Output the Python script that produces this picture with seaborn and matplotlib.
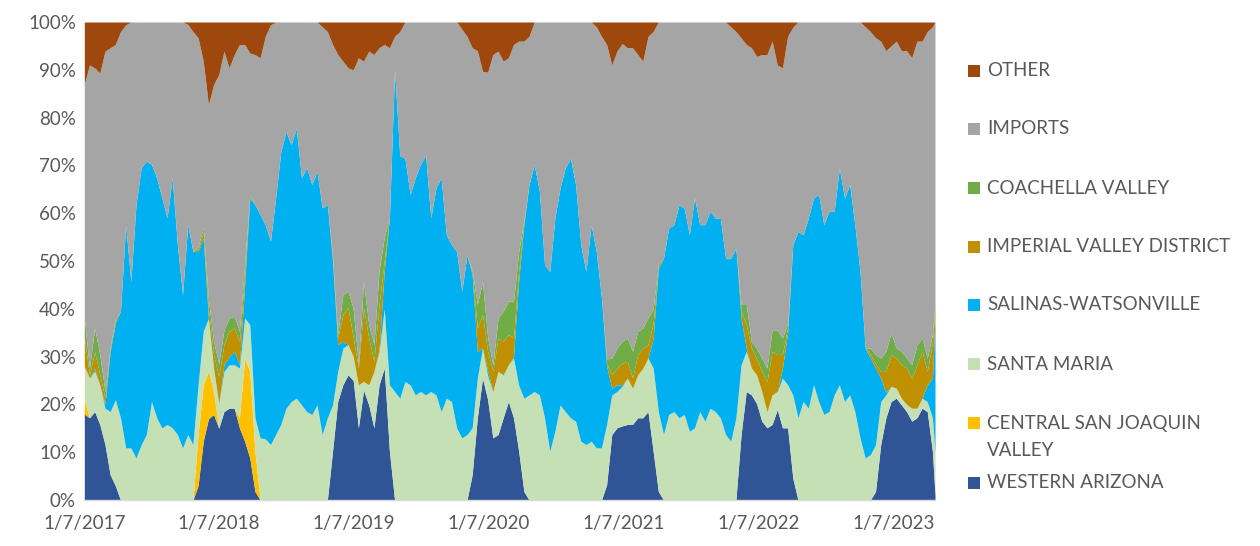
import numpy as np
import pandas as pd
import matplotlib
matplotlib.use("Agg")
import matplotlib.pyplot as plt
from matplotlib.patches import Rectangle
import seaborn as sns

# ---- data: share of volume (%), read every 2 weeks from 1/7/2017, plus the last week ----
dates = list(pd.date_range("2017-01-07", periods=165, freq="14D")) + [pd.Timestamp("2023-04-29")]

western_arizona = [
    18, 17.2, 18.5, 15.8, 11.6, 5.3, 3, 0, 0, 0,
    0, 0, 0, 0, 0, 0, 0, 0, 0, 0,
    0, 0, 3, 12.3, 17, 17.9, 15, 18.5, 19.2, 19.2,
    15.1, 12.3, 8.8, 1.8, 0, 0, 0, 0, 0, 0,
    0, 0, 0, 0, 0, 0, 0, 0, 10.2, 20.6,
    24.1, 26.2, 25, 15.1, 23, 19.9, 15.1, 24.1, 27.6, 10.2,
    0, 0, 0, 0, 0, 0, 0, 0, 0, 0,
    0, 0, 0, 0, 0, 5.3, 17.2, 25.5, 21, 13,
    13.7, 17.2, 20.6, 17.2, 10.2, 1.8, 0, 0, 0, 0,
    0, 0, 0, 0, 0, 0, 0, 0, 0, 0,
    0, 3.2, 13.7, 15.1, 15.5, 15.8, 15.8, 17.2, 17.2, 18.5,
    10.2, 1.8, 0, 0, 0, 0, 0, 0, 0, 0,
    0, 0, 0, 0, 0, 0, 0, 13.7, 22.7, 22,
    20.2, 16.5, 15.1, 15.8, 18.9, 15.1, 15.1, 4.6, 0, 0,
    0, 0, 0, 0, 0, 0, 0, 0, 0, 0,
    0, 0, 0, 1.8, 11.6, 17.2, 20.6, 21.3, 19.9, 18.5,
    16.5, 17.2, 19.2, 18.5, 10.2, 1]
central_san_joaquin = [
    3, 0, 0, 0, 0, 0, 0, 0, 0, 0,
    0, 0, 0, 0, 0, 0, 0, 0, 0, 0,
    0, 0, 10.7, 11.8, 10, 4.8, 0, 0, 0, 0,
    2.1, 17.4, 18.1, 8.4, 0, 0, 0, 0, 0, 0,
    0, 0, 0, 0, 0, 0, 0, 0, 0, 0,
    0, 0, 0, 0, 0, 0, 0, 0, 0, 0,
    0, 0, 0, 0, 0, 0, 0, 0, 0, 0,
    0, 0, 0, 0, 0, 0, 0, 0, 0, 0,
    0, 0, 0, 0, 0, 0, 0, 0, 0, 0,
    0, 0, 0, 0, 0, 0, 0, 0, 0, 0,
    0, 0, 0, 0, 0, 0, 0, 0, 0, 0,
    0, 0, 0, 0, 0, 0, 0, 0, 0, 0,
    0, 0, 0, 0, 0, 0, 0, 0, 0, 0,
    0, 0, 0, 0, 0, 0, 0, 0, 0, 0,
    0, 0, 0, 0, 0, 0, 0, 0, 0, 0,
    0, 0, 0, 0, 0, 0, 0, 0, 0, 0,
    0, 0, 0, 0, 0, 0]
santa_maria = [
    7, 8.3, 8.5, 8.3, 7.6, 13.2, 18, 17.2, 10.9, 10.9,
    8.8, 11.6, 13.7, 20.6, 17.2, 15.1, 15.8, 15.1, 13.7, 10.9,
    13.7, 11.6, 10.4, 11.2, 11, 4.9, 5.2, 8.4, 9.1, 9.1,
    10.4, 8.4, 9.8, 7, 13, 12.8, 11.6, 13.7, 15.8, 19.2,
    20.6, 21.3, 19.9, 18.5, 17.9, 19.9, 13.7, 17.2, 9.7, 6.3,
    7.7, 6.3, 5, 9, 1.8, 4.2, 11.8, 7, 12.4, 13.9,
    22.7, 21.3, 24.8, 24.1, 22, 22.7, 22, 22.7, 22, 18.5,
    21.3, 20.6, 15.1, 13, 13.7, 9.8, 8.3, 6.3, 5, 9.7,
    13.2, 9, 7.7, 12.5, 13.8, 19.5, 22, 22.7, 22, 17.2,
    10.2, 14.4, 19.9, 18.5, 17.2, 16.5, 12.3, 11.6, 12.3, 10.9,
    10.9, 12.6, 8.3, 7.6, 8.3, 9.7, 7.6, 9, 10.4, 11.2,
    17.4, 16.7, 13.7, 17.9, 18.5, 17.2, 17.9, 14.4, 15.1, 18.5,
    16.5, 19.2, 18.5, 17.2, 13.7, 12.3, 17.2, 14.6, 8.4, 5.6,
    6, 6.2, 3.4, 6.2, 3.8, 10.4, 9, 17.4, 17.2, 20.6,
    19.2, 24.1, 20.6, 17.9, 18.5, 22, 24.1, 20.6, 22, 18.5,
    13, 8.8, 9.5, 9.8, 9, 4.8, 3.2, 2.1, 1.4, 1.5,
    2.7, 2, 2.1, 2.1, 7, 9]
salinas_watsonville = [
    0, 0, 0.5, 0, 0.8, 12.6, 16, 22.3, 46.7, 34.8,
    53, 57.9, 57.2, 49.6, 50.2, 48.1, 43.2, 52.3, 39.7, 32.1,
    43.9, 40.4, 27.9, 19.5, 0, 0, 0, 1.4, 1.7, 2.8,
    0.7, 6.9, 26.5, 44.6, 46.7, 44.8, 42.5, 49.5, 57.1, 57.9,
    53.7, 56.5, 47.5, 51, 48.1, 48.9, 47.4, 44.6, 30.1, 5.6,
    1.4, 0, 0, 0, 0, 0, 0, 0.4, 8, 34.9,
    67.3, 50.7, 46.7, 39.8, 45.4, 47.5, 50.2, 36.3, 43.3, 48.9,
    34.2, 32.8, 36.9, 30.7, 37.6, 32, 5.6, 0, 1, 0,
    0, 0, 0, 0.3, 22, 36.3, 44, 47.5, 42.6, 32,
    37.6, 44.6, 45.4, 51, 54.3, 49.5, 41.1, 36.2, 45.3, 41.1,
    31.4, 12.2, 1.4, 1.4, 0.3, 0, 0, 0, 0, 0,
    6.3, 30, 36.9, 39, 39.1, 44.6, 43.2, 41.1, 48.1, 39.1,
    41.1, 41.2, 40.5, 41.8, 36.9, 38.3, 35.5, 9.8, 0.7, 0,
    0, 0, 0, 0, 0, 2.1, 10.9, 31.4, 39, 34.9,
    39.8, 39.1, 43.3, 39.7, 41.9, 38.4, 45.4, 42.6, 44, 39.1,
    34.8, 23, 20.2, 16, 4.9, 0.5, 0, 0, 0, 0,
    0, 0, 0, 3.5, 8.3, 28]
imperial_valley = [
    6, 0.7, 3.5, 2.1, 1.3, 0.4, 0.5, 0, 0, 0,
    0, 0, 0, 0, 0, 0, 0, 0, 0, 0,
    0, 0, 0.5, 1.2, 2, 2.8, 5.6, 4.2, 5.3, 4.9,
    4.9, 2, 0.3, 0, 0, 0, 0, 0, 0, 0,
    0, 0, 0, 0, 0, 0, 0, 0, 0.5, 1.4,
    5.6, 7.7, 4, 3.5, 15.4, 9.8, 2.1, 9.4, 2, 0,
    0, 0, 0, 0, 0, 0, 0, 0, 0, 0,
    0, 0, 0, 0, 0, 0.4, 4.9, 7, 4, 4.3,
    7, 7, 6.3, 3.9, 2, 0.4, 0, 0, 0, 0,
    0, 0, 0, 0, 0, 0, 0, 0, 0, 0,
    0, 0.5, 2.8, 3.5, 4.5, 3.5, 2.1, 4.2, 4.2, 2.8,
    3.1, 0.5, 0, 0, 0, 0, 0, 0, 0, 0,
    0, 0, 0, 0, 0, 0, 0, 1.4, 4.9, 4.2,
    3.3, 4.2, 6.3, 9.1, 7.7, 2.9, 1, 0, 0, 0,
    0, 0, 0, 0, 0, 0, 0, 0, 0, 0,
    0, 0, 0.8, 0.9, 1.4, 4.4, 6.6, 6.3, 7, 7.6,
    6.3, 9.1, 9.8, 2.8, 7.5, 2]
coachella_valley = [
    4, 1.4, 5, 4.2, 1.4, 0.5, 0.5, 0, 0, 0,
    0, 0, 0, 0, 0, 0, 0, 0, 0, 0,
    0, 0, 0.5, 1, 2, 2.8, 2.7, 3.1, 2.8, 2.4,
    2.1, 2, 0.5, 0, 0, 0, 0, 0, 0, 0,
    0, 0, 0, 0, 0, 0, 0, 0, 0.5, 0.7,
    4.2, 3.5, 6, 0.7, 5.5, 2.8, 3.5, 7.1, 5, 0,
    0, 0, 0, 0, 0, 0, 0, 0, 0, 0,
    0, 0, 0, 0, 0, 0.5, 4.9, 6.9, 3, 1.3,
    4.2, 6.3, 7, 7.7, 4, 0.5, 0, 0, 0, 0,
    0, 0, 0, 0, 0, 0, 0, 0, 0, 0,
    0, 1, 3.5, 4.2, 4.6, 4.9, 5.6, 4.9, 4.2, 5.6,
    3, 0.5, 0, 0, 0, 0, 0, 0, 0, 0,
    0, 0, 0, 0, 0, 0, 0, 1.4, 4.2, 1.4,
    2.3, 2.8, 2.8, 4.5, 5.2, 3.4, 1, 0, 0, 0,
    0, 0, 0, 0, 0, 0, 0, 0, 0, 0,
    0, 0, 1.3, 1.9, 2.8, 4.2, 4.6, 2.1, 2.8, 2.1,
    2.8, 4.2, 2.8, 2.8, 1.6, 1]
imports = [
    49, 63.4, 54.4, 58.9, 71.2, 62.6, 57.3, 58.5, 41.8, 54.3,
    38.2, 30.5, 29.1, 29.8, 32.6, 36.8, 41, 32.6, 46.6, 57,
    41.9, 46, 43.7, 34.8, 40.7, 53.7, 60.5, 58.3, 52.3, 54.8,
    60, 46.3, 29.5, 31.4, 32.8, 39.4, 45.3, 36.8, 27.1, 22.9,
    25.7, 22.2, 32.6, 30.5, 34, 31.2, 37.9, 36.2, 44.3, 58.6,
    48.8, 46.7, 50, 64.2, 46.1, 57.2, 60.7, 46.6, 40.3, 35.6,
    7, 26, 28.5, 36.1, 32.6, 29.8, 27.8, 41, 34.7, 32.6,
    44.5, 46.6, 48, 54.8, 45.7, 46.6, 53.1, 44, 55.5, 64.9,
    55.8, 52.3, 50.9, 53.7, 44, 37.5, 31, 29.8, 35.4, 50.8,
    52.2, 41, 34.7, 30.5, 28.5, 34, 46.6, 52.2, 42.4, 47,
    54.7, 65.8, 61.3, 62.1, 62.3, 60.7, 63.5, 57.9, 55.8, 58.9,
    58, 50.5, 49.4, 43.1, 42.4, 38.2, 38.9, 44.5, 36.8, 42.4,
    42.4, 39.6, 41, 41, 49.4, 48.4, 45.3, 55.8, 54.4, 61.4,
    61, 63.5, 65.6, 60.4, 55.4, 56.5, 60, 45.5, 43.8, 44.5,
    41, 36.8, 36.1, 42.4, 39.6, 39.6, 30.5, 36.8, 34, 42.4,
    52.2, 67.2, 66.2, 66.3, 66.3, 62.9, 60, 64.2, 62.9, 64.3,
    64.2, 63.5, 62.1, 68.3, 64.4, 59]
other = [
    13, 9, 9.6, 10.7, 6.1, 5.4, 4.7, 2, 0.6, 0,
    0, 0, 0, 0, 0, 0, 0, 0, 0, 0,
    0.5, 2, 3.3, 8.2, 17.3, 13.1, 11, 6.1, 9.6, 6.8,
    4.7, 4.7, 6.5, 6.8, 7.5, 3, 0.6, 0, 0, 0,
    0, 0, 0, 0, 0, 0, 1, 2, 4.7, 6.8,
    8.2, 9.6, 10, 7.5, 8.2, 6.1, 6.8, 5.4, 4.7, 5.4,
    3, 2, 0, 0, 0, 0, 0, 0, 0, 0,
    0, 0, 0, 1.5, 3, 5.4, 6, 10.3, 10.5, 6.8,
    6.1, 8.2, 7.5, 4.7, 4, 4, 3, 0, 0, 0,
    0, 0, 0, 0, 0, 0, 0, 0, 0, 1,
    3, 4.7, 9, 6.1, 4.5, 5.4, 5.4, 6.8, 8.2, 3,
    2, 0, 0, 0, 0, 0, 0, 0, 0, 0,
    0, 0, 0, 0, 0, 1, 2, 3.3, 4.7, 5.4,
    7.2, 6.8, 6.8, 4, 9, 9.6, 3, 1.1, 0, 0,
    0, 0, 0, 0, 0, 0, 0, 0, 0, 0,
    0, 1, 2, 3.3, 4, 6, 5, 4, 6, 6,
    7.5, 4, 4, 2, 1, 0]

series_names = ["WESTERN ARIZONA", "CENTRAL SAN JOAQUIN\nVALLEY", "SANTA MARIA", "SALINAS-WATSONVILLE",
                "IMPERIAL VALLEY DISTRICT", "COACHELLA VALLEY", "IMPORTS", "OTHER"]
colors = ["#2F5597", "#FFC000", "#C5E0B4", "#00B0F0", "#BF9000", "#70AD47", "#A5A5A5", "#9E480E"]
tick_years = [2017, 2018, 2019, 2020, 2021, 2022, 2023]
y_ticks = [0, 10, 20, 30, 40, 50, 60, 70, 80, 90, 100]

# ---- style ----
sns.set_style("white")
plt.rcParams['font.family'] = ['Lato', 'DejaVu Sans']
text_color = "#595959"

df = pd.DataFrame({"date": dates, "WA": western_arizona, "CSJ": central_san_joaquin, "SM": santa_maria,
                   "SAL": salinas_watsonville, "IVD": imperial_valley, "CV": coachella_valley,
                   "IMP": imports, "OTH": other})
vals = df[["WA", "CSJ", "SM", "SAL", "IVD", "CV", "IMP", "OTH"]].to_numpy(dtype=float)
vals = vals / vals.sum(axis=1, keepdims=True) * 100  # 100% stacked

fig = plt.figure(figsize=(12.6, 5.46), dpi=100)
ax = fig.add_axes([84.3 / 1260, 1 - 500 / 546, (935 - 84.3) / 1260, (500 - 22) / 546])
ax.stackplot(df["date"], vals.T, colors=colors, linewidth=0)

ax.set_xlim(df["date"].iloc[0], df["date"].iloc[-1])
ax.set_ylim(0, 100)
ax.set_yticks(y_ticks)
ax.set_yticklabels([f"{v}%" for v in y_ticks], fontsize=13.5, color=text_color)
xt = [pd.Timestamp(year=y, month=1, day=7) for y in tick_years]
ax.set_xticks(xt)
ax.set_xticklabels([f"1/7/{y}" for y in tick_years], fontsize=13.5, color=text_color)
ax.tick_params(axis="y", length=0, pad=6)
ax.tick_params(axis="x", length=5, width=1, color="#D9D9D9", pad=6, direction="out")
for s in ["top", "right", "left"]:
    ax.spines[s].set_visible(False)
ax.spines["bottom"].set_color("#D9D9D9")
ax.spines["bottom"].set_linewidth(1)
ax.grid(False)

# ---- legend (right side, top-down as in reference) ----
legend_y = [71, 129, 188, 247, 305, 364, 423, 483]
order = [7, 6, 5, 4, 3, 2, 1, 0]
for yp, idx in zip(legend_y, order):
    fy = 1 - yp / 546
    fig.patches.append(Rectangle((968 / 1260, fy - 6 / 546), 12 / 1260, 12 / 546,
                                 transform=fig.transFigure, facecolor=colors[idx], edgecolor="none"))
    name = series_names[idx]
    if "\n" in name:
        fig.text(987 / 1260, 1 - (yp - 8) / 546, name, ha="left", va="top", fontsize=13.5,
                 color=text_color, linespacing=1.75)
    else:
        fig.text(987 / 1260, fy, name, ha="left", va="center", fontsize=13.5, color=text_color)

fig.savefig("out.png", dpi=100)
